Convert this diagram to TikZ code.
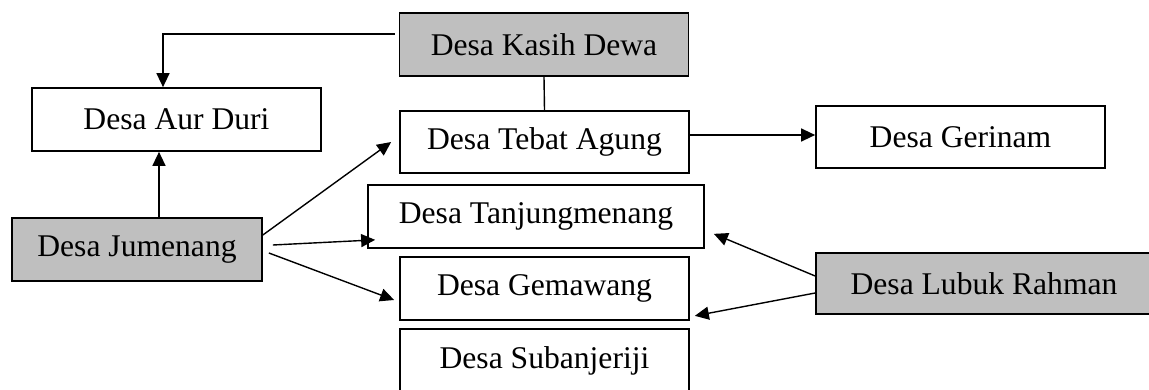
\documentclass[tikz,border=0pt]{standalone}
\usepackage{fontspec}
\setmainfont{Liberation Serif}
\usetikzlibrary{arrows.meta}
\begin{document}
\begin{tikzpicture}[x=1pt,y=1pt,
  box/.style={draw=black, line width=1.7pt, fill=white, inner sep=0pt,
    minimum width=289pt, minimum height=63pt,
    font=\fontsize{31.6}{36}\selectfont},
  graybox/.style={box, fill=black!25},
  conn/.style={line width=1.4pt, draw=black},
  arr/.style={conn, -{Triangle[length=14pt,width=13pt]}}]
\useasboundingbox (0,0) rectangle (1149,-390);
\clip (0,0) rectangle (1149,-390);
\node[graybox] (kasih) at (544,-44.5) {Desa Kasih Dewa};
\node[box] (aur) at (176.5,-119.5) {Desa Aur Duri};
\node[box, minimum height=62pt] (tebat) at (544.5,-142) {Desa Tebat Agung};
\node[box, minimum height=62pt] (gerinam) at (960.5,-137) {Desa Gerinam};
\node[graybox, minimum width=250pt] (jumenang) at (137,-249.5) {Desa Jumenang};
\node[box, minimum width=336pt] (tanjung) at (536,-216.5) {Desa Tanjungmenang};
\node[box] (gemawang) at (544.5,-288.5) {Desa Gemawang};
\node[box] (suban) at (544.5,-360.5) {Desa Subanjeriji};
\node[graybox, minimum width=336pt, minimum height=61pt] (lubuk) at (984,-283.5) {Desa Lubuk Rahman};
% connectors
\draw[arr] ([xshift=-4pt,yshift=10.5pt]kasih.west) -| ([xshift=-13.5pt]aur.north);
\draw[conn] (kasih.south) -- (tebat.north);
\draw[arr] ([yshift=7pt]tebat.east) -- ([yshift=2pt]gerinam.west);
\draw[arr] ([xshift=22pt]jumenang.north) -- ([xshift=22pt]jumenang.north |- aur.south);
\draw[arr] ([yshift=14.5pt]jumenang.east) -- ([xshift=-8pt]tebat.west);
\draw[arr] ([xshift=10pt,yshift=4.5pt]jumenang.east) -- ([xshift=8pt,yshift=9pt]tanjung.south west);
\draw[arr] ([xshift=6pt,yshift=-3.5pt]jumenang.east) -- ([xshift=-5pt,yshift=-11.5pt]gemawang.west);
\draw[arr] ([yshift=7.5pt]lubuk.west) -- ([xshift=9pt,yshift=15pt]tanjung.south east);
\draw[arr] ([yshift=-9.5pt]lubuk.west) -- ([xshift=5pt,yshift=5pt]gemawang.south east);
\end{tikzpicture}
\end{document}
